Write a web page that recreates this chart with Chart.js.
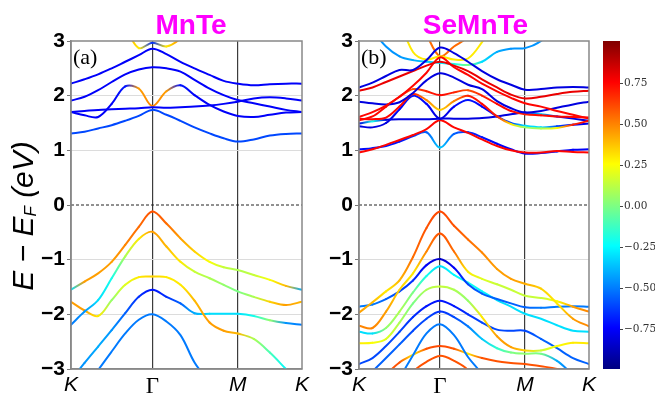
<!DOCTYPE html>
<html>
<head>
<meta charset="utf-8">
<script src="https://cdn.jsdelivr.net/npm/chart.js@4.4.1/dist/chart.umd.min.js"></script>
<style>
  html, body { margin: 0; padding: 0; background: #fff; }
  #wrap { position: relative; width: 655px; height: 401px; overflow: hidden; }
  canvas { position: absolute; top: 0; }
</style>
</head>
<body>
<div id="wrap">
  <canvas id="chartA" width="330" height="401" style="left:0px"></canvas>
  <canvas id="chartB" width="300" height="401" style="left:300px"></canvas>
  <canvas id="chartC" width="65" height="401" style="left:590px"></canvas>
</div>
<script>
// k-path: K -> Gamma -> M -> K
const kPath = [0, 13.5, 27, 40.5, 54, 67.5, 81, 95, 109, 123, 138, 152, 166, 182, 198, 214, 230];
const kTicks = [0, 81, 166, 230];
const kLabels = ['K', 'Γ', 'M', 'K'];
const energyTicks = [-3, -2, -1, 0, 1, 2, 3];
const weightTicks = [-0.75, -0.5, -0.25, 0, 0.25, 0.5, 0.75];
const cbMin = -0.99, cbMax = 1.01;

// MnTe bands (eV) and projected weights
const mnteBands = [
  [1.31, 1.34, 1.40, 1.46, 1.54, 1.63, 1.74, 1.65, 1.54, 1.42, 1.31, 1.22, 1.16, 1.20, 1.27, 1.30, 1.31],
  [1.70, 1.72, 1.74, 1.75, 1.76, 1.77, 1.79, 1.78, 1.79, 1.80, 1.82, 1.85, 1.89, 1.95, 1.97, 1.95, 1.91],
  [1.70, 1.64, 1.61, 1.85, 2.17, 2.13, 1.81, 2.08, 2.19, 2.01, 1.83, 1.71, 1.63, 1.61, 1.65, 1.69, 1.70],
  [1.91, 1.98, 2.10, 2.25, 2.39, 2.48, 2.52, 2.50, 2.44, 2.29, 2.13, 2.01, 1.92, 1.86, 1.80, 1.74, 1.70],
  [2.22, 2.30, 2.39, 2.50, 2.62, 2.74, 2.86, 2.76, 2.62, 2.50, 2.38, 2.27, 2.22, 2.19, 2.21, 2.22, 2.22],
  [4.50, 4.20, 3.90, 3.60, 3.25, 2.87, 2.97, 2.90, 3.05, 3.40, 3.80, 4.10, 4.30, 4.40, 4.50, 4.50, 4.50],
  [-1.55, -1.40, -1.25, -1.04, -0.73, -0.40, -0.12, -0.34, -0.61, -0.85, -1.04, -1.14, -1.19, -1.28, -1.37, -1.48, -1.55],
  [-2.19, -1.95, -1.74, -1.34, -0.94, -0.62, -0.49, -0.76, -1.04, -1.22, -1.34, -1.46, -1.58, -1.68, -1.77, -1.83, -1.77],
  [-1.77, -1.93, -2.03, -1.74, -1.46, -1.32, -1.31, -1.32, -1.46, -1.75, -2.15, -2.30, -2.35, -2.45, -2.70, -3.00, -3.30],
  [-3.20, -2.89, -2.59, -2.29, -1.98, -1.68, -1.55, -1.68, -1.80, -1.98, -1.99, -1.99, -1.99, -2.03, -2.11, -2.16, -2.19],
  [-3.69, -3.38, -3.02, -2.68, -2.35, -2.10, -2.00, -2.13, -2.38, -2.88, -3.25, -3.60, -3.90, -4.20, -4.40, -4.50, -4.50]
];
const mnteWeights = [
  [-0.6, -0.6, -0.6, -0.6, -0.6, -0.6, -0.6, -0.6, -0.6, -0.6, -0.6, -0.6, -0.6, -0.6, -0.6, -0.6, -0.6],
  [-0.75, -0.75, -0.75, -0.75, -0.75, -0.75, -0.75, -0.75, -0.75, -0.75, -0.75, -0.75, -0.75, -0.75, -0.75, -0.75, -0.75],
  [-0.75, -0.75, -0.75, -0.75, -0.7, 0.45, 0.5, 0.45, -0.7, -0.75, -0.75, -0.75, -0.75, -0.75, -0.75, -0.75, -0.75],
  [-0.75, -0.75, -0.75, -0.75, -0.75, -0.75, -0.75, -0.75, -0.75, -0.75, -0.75, -0.75, -0.75, -0.75, -0.75, -0.75, -0.75],
  [-0.75, -0.75, -0.75, -0.75, -0.75, -0.75, -0.75, -0.75, -0.75, -0.75, -0.75, -0.75, -0.75, -0.75, -0.75, -0.75, -0.75],
  [0.5, 0.5, 0.5, 0.5, 0.5, 0.3, -0.65, 0.3, 0.5, 0.5, 0.5, 0.5, 0.5, 0.5, 0.5, 0.5, 0.5],
  [-0.3, 0.45, 0.45, 0.45, 0.5, 0.55, 0.6, 0.55, 0.45, 0.35, 0.25, 0.15, 0.1, 0.15, 0.25, 0.4, -0.4],
  [-0.5, -0.45, -0.3, -0.2, 0.1, 0.3, 0.45, 0.4, 0.3, 0.15, 0.1, 0.05, 0.0, 0.1, 0.35, 0.45, 0.4],
  [0.45, 0.45, 0.3, 0.05, 0.2, 0.3, 0.35, 0.3, 0.3, 0.4, 0.45, 0.45, 0.4, 0.1, -0.1, -0.25, -0.3],
  [-0.45, -0.45, -0.4, -0.45, -0.55, -0.65, -0.7, -0.65, -0.55, -0.4, -0.3, -0.3, -0.3, -0.2, 0.05, -0.45, -0.5],
  [-0.5, -0.5, -0.5, -0.5, -0.5, -0.5, -0.5, -0.5, -0.5, -0.5, -0.5, -0.5, -0.5, -0.5, -0.5, -0.5, -0.5]
];

// SeMnTe bands (eV) and projected weights
const semnteBands = [
  [2.15, 2.24, 2.36, 2.47, 2.47, 2.65, 2.88, 2.78, 2.62, 2.45, 2.30, 2.20, 2.11, 2.12, 2.15, 2.16, 2.15],
  [2.09, 2.15, 2.25, 2.35, 2.45, 2.55, 2.62, 2.55, 2.45, 2.30, 2.15, 2.02, 1.95, 1.98, 2.03, 2.07, 2.09],
  [1.61, 1.70, 1.82, 1.98, 2.18, 2.42, 2.70, 2.52, 2.38, 2.22, 2.08, 1.96, 1.86, 1.80, 1.72, 1.65, 1.58],
  [1.89, 1.86, 1.84, 1.88, 2.05, 2.28, 2.41, 2.33, 2.20, 2.12, 1.90, 1.77, 1.69, 1.72, 1.78, 1.84, 1.89],
  [1.58, 1.57, 1.60, 1.80, 2.03, 1.92, 1.74, 1.90, 2.00, 1.85, 1.62, 1.48, 1.42, 1.40, 1.41, 1.47, 1.54],
  [1.55, 1.62, 1.80, 1.98, 2.12, 2.08, 2.01, 2.06, 2.10, 2.00, 1.85, 1.72, 1.66, 1.64, 1.62, 1.61, 1.60],
  [1.44, 1.42, 1.50, 1.75, 2.00, 1.85, 1.58, 1.80, 1.92, 1.80, 1.62, 1.50, 1.45, 1.42, 1.44, 1.47, 1.49],
  [1.49, 1.53, 1.56, 1.57, 1.57, 1.57, 1.58, 1.58, 1.58, 1.59, 1.62, 1.66, 1.69, 1.66, 1.62, 1.58, 1.54],
  [0.96, 1.02, 1.10, 1.19, 1.28, 1.39, 1.55, 1.42, 1.32, 1.20, 1.08, 1.00, 0.96, 0.96, 0.99, 0.97, 0.96],
  [1.02, 1.04, 1.08, 1.16, 1.26, 1.33, 1.05, 1.30, 1.33, 1.24, 1.12, 1.02, 0.94, 0.95, 0.98, 1.01, 1.02],
  [3.60, 3.20, 2.90, 2.72, 2.65, 2.62, 2.60, 2.58, 2.56, 2.62, 2.80, 2.86, 2.87, 3.00, 3.30, 3.60, 3.90],
  [5.00, 4.60, 4.10, 3.40, 2.80, 2.66, 2.72, 2.66, 2.68, 2.98, 3.40, 3.90, 4.30, 4.60, 4.80, 5.00, 5.00],
  [5.00, 4.80, 4.50, 4.10, 3.60, 3.12, 2.72, 2.90, 3.08, 3.50, 4.00, 4.40, 4.70, 5.00, 5.00, 5.00, 5.00],
  [-1.97, -1.78, -1.58, -1.38, -0.95, -0.42, -0.12, -0.38, -0.63, -0.87, -1.17, -1.35, -1.44, -1.53, -1.80, -2.08, -2.22],
  [-2.21, -2.25, -1.95, -1.55, -1.25, -0.85, -0.52, -0.85, -1.22, -1.35, -1.45, -1.55, -1.66, -1.70, -1.76, -1.86, -1.95],
  [-1.86, -1.82, -1.72, -1.58, -1.38, -1.10, -0.99, -1.15, -1.45, -1.62, -1.72, -1.80, -1.87, -1.88, -1.86, -1.85, -1.86],
  [-2.32, -2.35, -2.25, -1.95, -1.60, -1.30, -1.12, -1.28, -1.42, -1.58, -1.74, -1.86, -1.99, -2.08, -2.20, -2.30, -2.32],
  [-2.53, -2.52, -2.45, -2.15, -1.80, -1.55, -1.49, -1.55, -1.75, -2.05, -2.40, -2.60, -2.66, -2.66, -2.58, -2.52, -2.53],
  [-2.91, -2.80, -2.58, -2.32, -2.05, -1.85, -1.75, -1.85, -2.00, -2.15, -2.28, -2.30, -2.30, -2.45, -2.62, -2.80, -2.91],
  [-3.40, -3.05, -2.80, -2.55, -2.30, -2.08, -1.95, -2.05, -2.22, -2.45, -2.62, -2.70, -2.72, -2.72, -2.85, -3.10, -3.30],
  [-5.00, -4.50, -4.00, -3.20, -2.75, -2.35, -2.18, -2.38, -2.78, -3.10, -3.60, -4.00, -4.30, -4.60, -4.80, -5.00, -5.00],
  [-3.50, -3.30, -3.10, -2.88, -2.74, -2.63, -2.58, -2.63, -2.72, -2.80, -2.86, -2.89, -2.91, -2.95, -3.00, -3.10, -3.20],
  [-4.50, -4.10, -3.70, -3.40, -3.05, -2.87, -2.76, -2.85, -3.02, -3.40, -3.80, -4.10, -4.40, -4.60, -4.80, -5.00, -5.00]
];
const semnteWeights = [
  [-0.8, -0.8, -0.8, -0.8, -0.8, -0.8, -0.8, -0.8, -0.8, -0.8, -0.8, -0.8, -0.8, -0.8, -0.8, -0.8, -0.8],
  [0.8, 0.8, 0.8, 0.8, 0.8, 0.8, 0.8, 0.8, 0.8, 0.8, 0.8, 0.8, 0.8, 0.8, 0.8, 0.8, 0.8],
  [0.75, 0.75, 0.75, 0.75, 0.75, 0.75, 0.75, 0.75, 0.75, 0.75, 0.75, 0.75, 0.75, 0.75, 0.75, 0.75, 0.75],
  [-0.8, -0.8, -0.8, -0.8, -0.8, -0.8, -0.8, -0.8, -0.8, -0.8, -0.8, -0.8, -0.8, -0.8, -0.8, -0.8, -0.8],
  [0.75, 0.75, 0.75, 0.75, 0.7, 0.5, 0.35, 0.5, 0.7, 0.75, 0.7, 0.3, 0.05, 0.1, 0.25, 0.7, 0.75],
  [0.75, 0.75, 0.75, 0.7, 0.6, 0.7, 0.75, 0.7, 0.6, 0.7, 0.75, 0.75, 0.7, 0.75, 0.75, 0.75, 0.75],
  [-0.8, -0.8, -0.8, -0.75, -0.7, -0.75, -0.8, -0.75, -0.7, -0.75, -0.75, -0.6, -0.3, -0.3, -0.6, -0.75, -0.8],
  [-0.8, -0.2, -0.8, -0.8, -0.8, -0.8, -0.8, -0.8, -0.8, -0.8, -0.8, -0.8, -0.8, -0.3, -0.8, -0.8, -0.8],
  [0.75, 0.75, 0.75, 0.75, 0.75, 0.75, 0.75, 0.75, 0.75, 0.75, 0.75, 0.75, 0.75, 0.75, 0.75, 0.75, 0.75],
  [-0.75, -0.7, -0.7, -0.7, -0.65, -0.55, -0.35, -0.55, -0.65, -0.7, -0.75, -0.75, -0.75, -0.7, -0.7, -0.75, -0.75],
  [-0.45, -0.45, -0.45, -0.45, -0.4, -0.35, -0.3, -0.2, 0.0, -0.3, -0.4, -0.45, -0.45, -0.45, -0.45, -0.45, -0.45],
  [0.3, 0.3, 0.3, 0.3, 0.3, 0.3, 0.3, 0.3, 0.3, 0.3, 0.3, 0.3, 0.3, 0.3, 0.3, 0.3, 0.3],
  [0.55, 0.55, 0.55, 0.55, 0.55, 0.55, 0.55, 0.55, 0.55, 0.55, 0.55, 0.55, 0.55, 0.55, 0.55, 0.55, 0.55],
  [0.45, 0.4, 0.3, 0.4, 0.55, 0.6, 0.62, 0.6, 0.55, 0.5, 0.45, 0.45, 0.42, 0.35, 0.3, 0.45, 0.5],
  [0.5, 0.5, 0.45, 0.35, 0.3, 0.5, 0.6, 0.55, 0.3, 0.2, 0.15, 0.15, 0.15, 0.15, 0.25, 0.45, 0.5],
  [-0.5, -0.5, -0.55, -0.6, -0.65, -0.75, -0.85, -0.75, -0.6, -0.55, -0.55, -0.55, -0.55, -0.5, -0.5, -0.5, -0.5],
  [-0.3, -0.3, 0.05, 0.1, 0.0, -0.2, -0.3, -0.25, -0.2, -0.25, -0.3, -0.3, -0.3, -0.3, -0.3, -0.3, -0.3],
  [0.3, 0.25, 0.2, 0.1, 0.0, 0.1, 0.15, 0.1, 0.05, 0.3, 0.45, 0.45, 0.35, 0.15, 0.25, 0.3, 0.3],
  [-0.6, -0.6, -0.6, -0.6, -0.65, -0.7, -0.7, -0.7, -0.65, -0.6, -0.6, -0.6, -0.6, -0.55, -0.55, -0.55, -0.55],
  [-0.55, -0.55, -0.55, -0.55, -0.6, -0.6, -0.65, -0.6, -0.5, -0.35, -0.15, 0.0, 0.05, 0.0, -0.4, -0.55, -0.55],
  [-0.5, -0.5, -0.5, -0.5, -0.5, -0.5, -0.5, -0.5, -0.5, -0.5, -0.5, -0.5, -0.5, -0.5, -0.5, -0.5, -0.5],
  [0.6, 0.6, 0.6, 0.6, 0.3, 0.6, 0.62, 0.6, 0.3, 0.6, 0.6, 0.6, 0.6, 0.6, 0.6, 0.6, 0.6],
  [0.6, 0.6, 0.6, 0.6, 0.6, 0.6, 0.6, 0.6, 0.6, 0.6, 0.6, 0.6, 0.6, 0.6, 0.6, 0.6, 0.6]
];

// jet colour map over the colorbar range
function jet(w) {
  const v = Math.min(1, Math.max(0, (w - cbMin) / (cbMax - cbMin)));
  const c = k => Math.round(255 * Math.min(1, Math.max(0, 1.5 - Math.abs(4 * v - k))));
  return 'rgb(' + c(3) + ',' + c(2) + ',' + c(1) + ')';
}

function segmentColor(c, w, ctx2d) {
  const w0 = w[c.p0DataIndex], w1 = w[c.p1DataIndex];
  const x0 = c.p0.x, y0 = c.p0.y, x1 = c.p1.x, y1 = c.p1.y;
  if (Math.abs(w0 - w1) < 0.02 || ![x0, y0, x1, y1].every(Number.isFinite)) {
    return jet((w0 + w1) / 2);
  }
  const g = ctx2d.createLinearGradient(x0, y0, x1, y1);
  g.addColorStop(0, jet(w0));
  g.addColorStop(1, jet(w1));
  g.toJSON = () => 'g' + c.datasetIndex + '_' + c.p0DataIndex; // lets Chart.js tell segments apart
  return g;
}

const panelText = {
  id: 'panelText',
  afterDraw(chart, args, opts) {
    const c = chart.ctx, a = chart.chartArea;
    c.save();
    c.strokeStyle = '#888';
    c.lineWidth = 1.5;
    c.strokeRect(a.left, a.top, a.right - a.left, a.bottom - a.top);

    c.fillStyle = '#ff00ff';
    c.font = 'bold 28px "Liberation Sans", Arial, sans-serif';
    c.textAlign = 'center';
    c.textBaseline = 'alphabetic';
    c.fillText(opts.title, opts.titleX, 34);

    c.fillStyle = '#000';
    c.font = '22px "Liberation Serif", "Times New Roman", serif';
    c.textAlign = 'left';
    c.fillText(opts.label, a.left + 2, a.top + 23);

    if (opts.yTitle) {
      const parts = [['E \u2212 E', 30, 0], ['F', 17, 3], [' (eV)', 30, 0]];
      let total = 0;
      parts.forEach(p => {
        c.font = 'italic ' + p[1] + 'px "Liberation Sans", Arial, sans-serif';
        total += c.measureText(p[0]).width;
      });
      c.translate(33, 216);
      c.rotate(-Math.PI / 2);
      let x = -total / 2;
      parts.forEach(p => {
        c.font = 'italic ' + p[1] + 'px "Liberation Sans", Arial, sans-serif';
        c.fillText(p[0], x, p[2]);
        x += c.measureText(p[0]).width;
      });
    }
    c.restore();
  }
};

function makePanel(id, bands, weights, axisWidth, padRight, text) {
  const canvas = document.getElementById(id);
  const ctx2d = canvas.getContext('2d');
  const datasets = bands.map((band, b) => ({
    data: kPath.map((x, i) => ({ x: x, y: band[i] })),
    borderColor: jet(weights[b][0]),
    borderWidth: 2,
    borderCapStyle: 'round',
    pointRadius: 0,
    tension: 0.35,
    clip: 0,
    segment: { borderColor: c => segmentColor(c, weights[b], ctx2d) }
  }));
  datasets.push({
    data: [{ x: kTicks[0], y: 0 }, { x: kTicks[3], y: 0 }],
    borderColor: '#222',
    borderWidth: 1,
    borderDash: [3, 2],
    pointRadius: 0,
    clip: 0
  });

  return new Chart(ctx2d, {
    type: 'line',
    data: { datasets: datasets },
    options: {
      responsive: false,
      animation: false,
      layout: { padding: { top: 41, right: padRight, bottom: 0, left: 0 } },
      elements: { line: { capBezierPoints: false } },
      plugins: { legend: { display: false }, tooltip: { enabled: false }, panelText: text },
      scales: {
        x: {
          type: 'linear',
          min: 0,
          max: 230,
          afterBuildTicks: s => { s.ticks = kTicks.map(v => ({ value: v })); },
          afterFit: s => { s.height = 32; },
          ticks: {
            autoSkip: false,
            maxRotation: 0,
            padding: 4,
            color: '#000',
            callback: (v, i) => kLabels[i],
            font: c => c.index === 1
              ? { family: '"Liberation Serif", "Times New Roman", serif', size: 23 }
              : { family: '"Liberation Sans", Arial, sans-serif', size: 21, style: 'italic' }
          },
          grid: {
            drawTicks: false,
            lineWidth: 1.2,
            color: c => (c.index === 1 || c.index === 2) ? '#3c3c3c' : 'rgba(0,0,0,0)'
          },
          border: { color: '#888', width: 1.5 }
        },
        y: {
          min: -3,
          max: 3,
          afterBuildTicks: s => { s.ticks = energyTicks.map(v => ({ value: v })); },
          afterFit: s => { s.width = axisWidth; },
          ticks: {
            padding: 2,
            color: '#000',
            font: { family: '"Liberation Sans", Arial, sans-serif', size: 21, weight: 'bold' },
            callback: v => (v < 0 ? '\u2212' : '') + Math.abs(v)
          },
          grid: {
            tickLength: 4,
            tickColor: '#777',
            lineWidth: 1,
            color: c => (c.tick && [1, 2, -1, -2].includes(c.tick.value)) ? '#dcdcdc' : 'rgba(0,0,0,0)'
          },
          border: { color: '#888', width: 1.5 }
        }
      }
    },
    plugins: [panelText]
  });
}

makePanel('chartA', mnteBands, mnteWeights, 71, 28, { title: 'MnTe', titleX: 191, label: '(a)', yTitle: true });
makePanel('chartB', semnteBands, semnteWeights, 59, 11, { title: 'SeMnTe', titleX: 175.5, label: '(b)', yTitle: false });

// colorbar
new Chart(document.getElementById('chartC'), {
  type: 'bar',
  data: {
    labels: [''],
    datasets: [{
      data: [[cbMin, cbMax]],
      barPercentage: 1,
      categoryPercentage: 1,
      borderWidth: 0,
      backgroundColor: c => {
        const a = c.chart.chartArea;
        if (!a) return '#888';
        const g = c.chart.ctx.createLinearGradient(0, a.bottom, 0, a.top);
        for (let i = 0; i <= 24; i++) {
          g.addColorStop(i / 24, jet(cbMin + (cbMax - cbMin) * i / 24));
        }
        return g;
      }
    }]
  },
  options: {
    responsive: false,
    animation: false,
    layout: { padding: { top: 41, right: 0, bottom: 32, left: 13 } },
    plugins: { legend: { display: false }, tooltip: { enabled: false } },
    scales: {
      x: { display: false },
      y: {
        position: 'right',
        min: cbMin,
        max: cbMax,
        afterBuildTicks: s => { s.ticks = weightTicks.map(v => ({ value: v })); },
        afterFit: s => { s.width = 35; },
        ticks: {
          padding: 1,
          color: '#333',
          font: { family: '"DejaVu Serif", serif', size: 10.5 },
          callback: v => (v < 0 ? '\u2212' : '') + Math.abs(v).toFixed(2)
        },
        grid: { drawOnChartArea: false, tickLength: 3, tickColor: '#444' },
        border: { display: false }
      }
    }
  }
});
</script>
</body>
</html>
